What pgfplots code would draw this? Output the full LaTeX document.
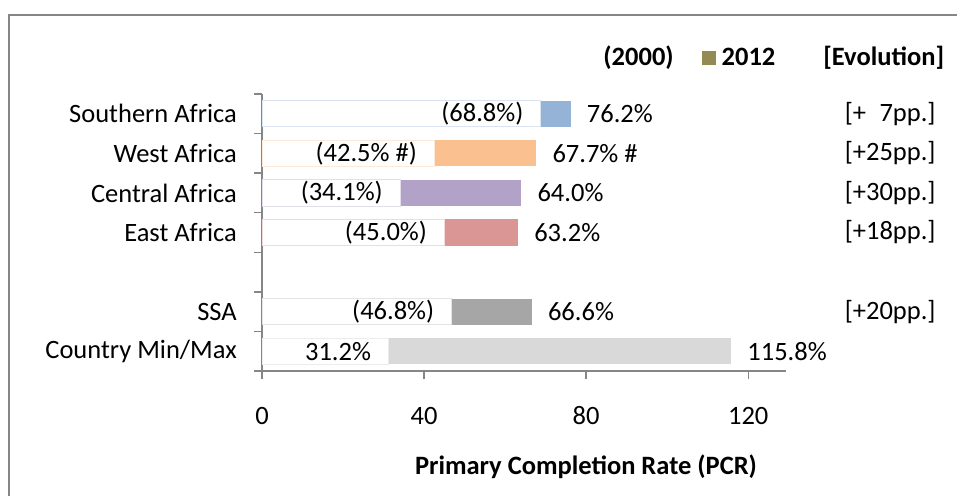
\documentclass[border=0pt]{standalone}
\usepackage{pgfplots}
\pgfplotsset{compat=1.18}
\usepackage{fontspec}
\setmainfont{Carlito}
\newcommand\fs{\fontsize{26.5bp}{32bp}\selectfont}
\definecolor{cSo}{HTML}{95B3D7}
\definecolor{cWe}{HTML}{FAC090}
\definecolor{cCe}{HTML}{B3A2C7}
\definecolor{cEa}{HTML}{D99694}
\definecolor{cSS}{HTML}{A6A6A6}
\definecolor{cCo}{HTML}{D9D9D9}
\definecolor{cLeg}{HTML}{948A54}
\definecolor{axgray}{HTML}{868686}
\begin{document}
\begin{tikzpicture}[font=\fs]
\path[use as bounding box] (0,0) rectangle (957bp,496bp);
\draw[axgray, line width=1.5bp] (9bp,0) -- (9bp,481bp) -- (957bp,481bp);
\begin{axis}[
  at={(262bp,125bp)}, anchor=south west,
  scale only axis, width=524.3bp, height=277bp,
  xmin=0, xmax=129.4, ymin=-0.5, ymax=6.5,
  xbar, bar shift=0pt, bar width=0.66,
  clip=false,
  axis x line*=bottom, axis y line*=left,
  axis line style={axgray, line width=1.3bp},
  tick style={axgray, line width=1.3bp},
  tick align=outside, major tick length=8bp,
  xtick={0,40,80,120},
  /pgf/number format/assume math mode=true,
  xticklabel style={anchor=center, yshift=-37bp},
  ytick={-0.5,0.5,...,6.5}, yticklabels={},
  extra y ticks={0,1,3,4,5,6},
  extra y tick labels={Country Min/Max,SSA,East Africa,Central Africa,West Africa,Southern Africa},
  extra y tick style={major tick length=0pt},
  yticklabel style={anchor=east, inner sep=0pt, xshift=-25bp},
  xlabel={\bfseries Primary Completion Rate (PCR)},
  xlabel style={at={(axis description cs:0.618,0)}, anchor=center, yshift=-96bp},
  legend style={at={(axis description cs:0.607,1.137)}, anchor=west, draw=none, fill=none,
    legend columns=3, font=\fs\bfseries, cells={anchor=base west},
    /tikz/every odd column/.append style={column sep=4bp},
    /tikz/every even column/.append style={column sep=26bp}},
]
% 2012 bars (coloured), drawn from 0; the 2000 part is covered by white bars
\addplot[forget plot, fill=cSo, draw=none, nodes near coords, point meta=explicit symbolic,
  every node near coord/.append style={anchor=west, inner sep=0pt, xshift=16bp}]
  coordinates {(76.2,6) [76.2\%]};
\addplot[forget plot, fill=cWe, draw=none, nodes near coords, point meta=explicit symbolic,
  every node near coord/.append style={anchor=west, inner sep=0pt, xshift=16bp}]
  coordinates {(67.7,5) [67.7\% \#]};
\addplot[forget plot, fill=cCe, draw=none, nodes near coords, point meta=explicit symbolic,
  every node near coord/.append style={anchor=west, inner sep=0pt, xshift=16bp}]
  coordinates {(64.0,4) [64.0\%]};
\addplot[forget plot, fill=cEa, draw=none, nodes near coords, point meta=explicit symbolic,
  every node near coord/.append style={anchor=west, inner sep=0pt, xshift=16bp}]
  coordinates {(63.2,3) [63.2\%]};
\addplot[forget plot, fill=cSS, draw=none, nodes near coords, point meta=explicit symbolic,
  every node near coord/.append style={anchor=west, inner sep=0pt, xshift=16bp}]
  coordinates {(66.6,1) [66.6\%]};
\addplot[forget plot, fill=cCo, draw=none, nodes near coords, point meta=explicit symbolic,
  every node near coord/.append style={anchor=west, inner sep=0pt, xshift=16bp}]
  coordinates {(115.8,0) [115.8\%]};
% 2000 bars (white)
\addplot[forget plot, fill=white, draw=cSo!35, line width=0.8bp, nodes near coords, point meta=explicit symbolic,
  every node near coord/.append style={anchor=east, inner sep=0pt, xshift=-17bp}]
  coordinates {(68.8,6) [(68.8\%)]};
\addplot[forget plot, fill=white, draw=cWe!35, line width=0.8bp, nodes near coords, point meta=explicit symbolic,
  every node near coord/.append style={anchor=east, inner sep=0pt, xshift=-17bp}]
  coordinates {(42.5,5) [(42.5\% \#)]};
\addplot[forget plot, fill=white, draw=cCe!35, line width=0.8bp, nodes near coords, point meta=explicit symbolic,
  every node near coord/.append style={anchor=east, inner sep=0pt, xshift=-17bp}]
  coordinates {(34.1,4) [(34.1\%)]};
\addplot[forget plot, fill=white, draw=cEa!35, line width=0.8bp, nodes near coords, point meta=explicit symbolic,
  every node near coord/.append style={anchor=east, inner sep=0pt, xshift=-17bp}]
  coordinates {(45.0,3) [(45.0\%)]};
\addplot[forget plot, fill=white, draw=cSS!30, line width=0.8bp, nodes near coords, point meta=explicit symbolic,
  every node near coord/.append style={anchor=east, inner sep=0pt, xshift=-17bp}]
  coordinates {(46.8,1) [(46.8\%)]};
\addplot[forget plot, fill=white, draw=cCo!50, line width=0.8bp, nodes near coords, point meta=explicit symbolic,
  every node near coord/.append style={anchor=east, inner sep=0pt, xshift=-17bp}]
  coordinates {(31.2,0) [31.2\%]};
% evolution labels
\node[anchor=east, inner sep=0pt] at (axis cs:166.3,6) {[+\hphantom{0}7pp.]};
\node[anchor=east, inner sep=0pt] at (axis cs:166.3,5) {[+25pp.]};
\node[anchor=east, inner sep=0pt] at (axis cs:166.3,4) {[+30pp.]};
\node[anchor=east, inner sep=0pt] at (axis cs:166.3,3) {[+18pp.]};
\node[anchor=east, inner sep=0pt] at (axis cs:166.3,1) {[+20pp.]};
% legend
\addlegendimage{draw=none, fill=none, legend image code/.code={\path[draw=none, fill=none] (0bp,0bp) rectangle (14bp,14.5bp);}}
\addlegendentry{(2000)}
\addlegendimage{draw=none, legend image code/.code={\fill[cLeg, draw=none] (0bp,0bp) rectangle (14bp,14.5bp);}}
\addlegendentry{2012}
\addlegendimage{draw=none, fill=none, legend image code/.code={\path[draw=none, fill=none] (0bp,0bp) rectangle (14bp,14.5bp);}}
\addlegendentry{[Evolution]}
\end{axis}
\end{tikzpicture}
\end{document}
